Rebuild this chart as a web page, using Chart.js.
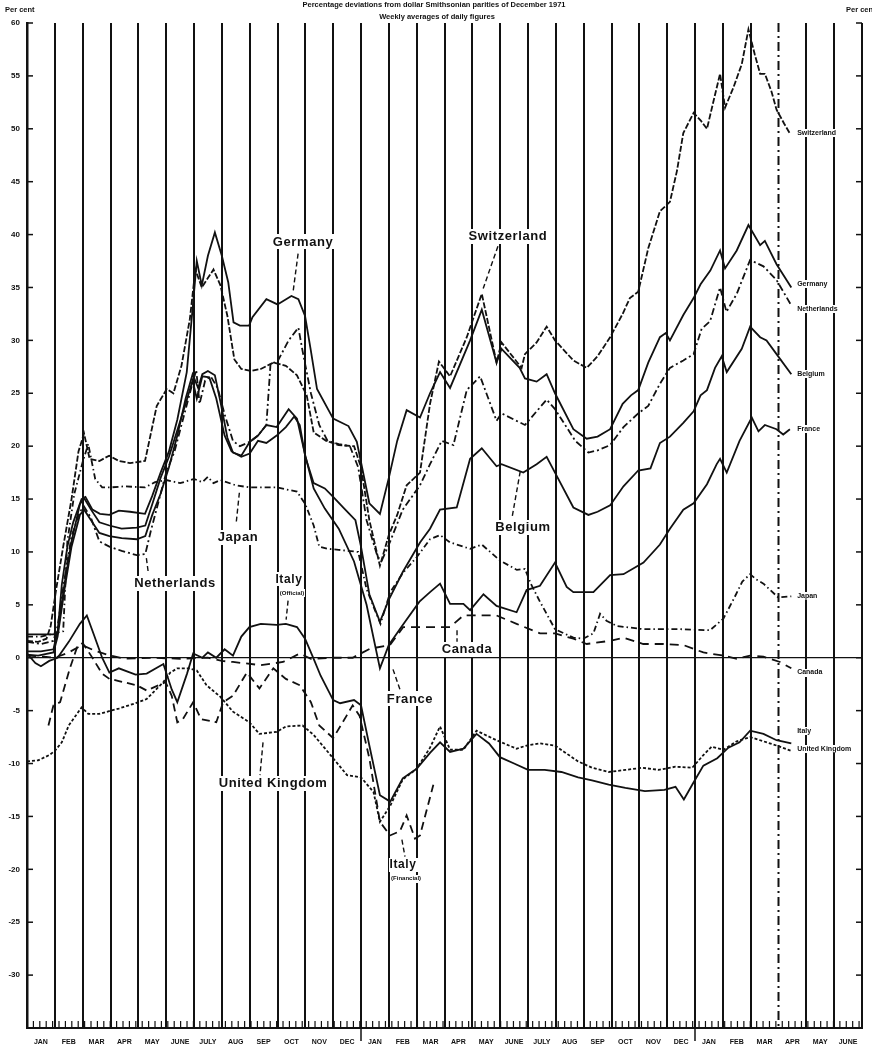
<!DOCTYPE html>
<html>
<head>
<meta charset="utf-8">
<script src="https://cdn.jsdelivr.net/npm/chart.js@4.4.1/dist/chart.umd.min.js"></script>
<style>
  html, body { margin: 0; padding: 0; background: #fff; }
  #wrap { width: 872px; height: 1053px; position: relative; }
</style>
</head>
<body>
<div id="wrap"><canvas id="c" width="872" height="1053"></canvas></div>
<script>
// Months from January 1973 to June 1975
const monthLabels = ['JAN','FEB','MAR','APR','MAY','JUNE','JULY','AUG','SEP','OCT','NOV','DEC',
                     'JAN','FEB','MAR','APR','MAY','JUNE','JULY','AUG','SEP','OCT','NOV','DEC',
                     'JAN','FEB','MAR','APR','MAY','JUNE'];

// Each series: [months since 1 Jan 1973, per cent deviation from Smithsonian parity]
const switzerland = [[0,1.6],[0.4,1.5],[0.7,1.8],[0.85,3],[1.05,6.5],[1.3,10.5],[1.6,15],[1.85,19.5],[2.05,21.2],[2.25,18.8],[2.6,18.6],[2.95,19.1],[3.3,18.6],[3.7,18.4],[4.24,18.6],[4.66,23.8],[5.02,25.4],[5.26,25],[5.55,27.6],[5.85,32],[6.05,36.7],[6.28,35],[6.7,36.7],[6.95,35.2],[7.2,32.3],[7.45,28.2],[7.7,27.3],[8.05,27.1],[8.4,27.3],[8.85,27.9],[9.3,27.6],[9.7,26.7],[10.05,24.8],[10.3,21.3],[10.75,20.5],[11.2,20.1],[11.75,20],[12.0,18],[12.3,13],[12.68,8.7],[13.0,11.6],[13.3,13.5],[13.64,16.3],[14.12,17.5],[14.48,24],[14.8,28],[15.2,26.6],[15.8,30.3],[16.34,34.4],[16.87,27.9],[17.05,29.8],[17.77,27.4],[17.89,28.7],[18.31,29.8],[18.67,31.3],[18.97,30],[19.63,28.1],[20.11,27.4],[20.5,28.5],[20.95,30.3],[21.4,32.5],[21.66,34],[21.96,34.6],[22.32,38.7],[22.74,42.2],[23.1,43.1],[23.35,46],[23.58,49.6],[23.95,51.5],[24.2,50.8],[24.43,50],[24.7,53],[24.9,55.2],[25.08,52],[25.38,53.9],[25.68,56.1],[25.92,59.4],[26.15,57],[26.34,55.2],[26.51,55.2],[26.75,53.5],[26.93,51.8],[27.2,50.5],[27.4,49.6]];

const germany = [[0,2.2],[0.5,2.2],[1.0,2.2],[1.1,2.3],[1.25,6.9],[1.45,10.5],[1.66,12.8],[1.96,15],[2.1,15.2],[2.35,14],[2.62,13.6],[2.96,13.5],[3.3,13.9],[3.7,13.8],[4.24,13.6],[4.5,15.3],[4.8,17.5],[5.1,19.5],[5.4,22.5],[5.74,27],[5.95,33],[6.1,37.5],[6.28,35.2],[6.5,38],[6.75,40.2],[7.0,38],[7.23,35.5],[7.42,31.7],[7.65,31.4],[7.98,31.4],[8.1,32.2],[8.6,33.9],[9.0,33.4],[9.5,34.2],[9.75,33.9],[9.99,32.3],[10.2,29],[10.42,25.4],[11.0,22.6],[11.55,21.9],[11.85,20.4],[12.1,17.2],[12.3,14.6],[12.68,13.6],[13.0,17],[13.3,20.5],[13.64,23.4],[14.12,22.7],[14.48,25],[14.84,27],[15.2,25.5],[15.92,30],[16.34,32.9],[16.87,27.9],[17.05,29.2],[17.7,27.4],[17.89,26.4],[18.31,26.1],[18.67,26.8],[18.97,25],[19.63,21.6],[20.11,20.7],[20.5,20.9],[20.95,21.6],[21.4,24],[21.7,24.8],[21.96,25.3],[22.32,27.9],[22.74,30.3],[22.95,30.7],[23.1,30],[23.58,32.4],[23.95,34],[24.2,35.3],[24.55,36.6],[24.9,38.5],[25.08,36.8],[25.5,38.5],[25.92,40.9],[26.34,39],[26.51,39.4],[26.93,37.2],[27.46,35]];

const netherlands = [[0,1.5],[0.5,1.3],[0.95,1.6],[1.1,3],[1.35,7.5],[1.6,11.5],[1.9,13.8],[2.05,14.3],[2.3,13.2],[2.6,11],[2.96,10.5],[3.4,10.1],[3.94,9.7],[4.25,9.8],[4.45,12],[4.75,15],[5.0,17.5],[5.3,19.5],[5.6,22.5],[5.9,25.5],[6.08,27.2],[6.2,24],[6.4,26.2],[6.6,26.6],[6.85,25.5],[7.1,23],[7.4,20.5],[7.65,20],[8.0,20.4],[8.3,21],[8.6,22],[8.75,27.8],[9.0,28],[9.4,30],[9.75,31.2],[9.9,29],[10.2,25],[10.5,22],[10.8,20.5],[11.2,20.2],[11.6,20],[11.9,18],[12.2,13],[12.6,9.5],[12.75,9.2],[13.05,11],[13.5,14],[14.12,16.3],[14.48,18.3],[14.9,20.5],[15.32,20.1],[15.8,25.3],[16.28,26.6],[16.87,22.4],[17.05,23.1],[17.89,22],[18.67,24.4],[18.97,23.5],[19.7,20.5],[20.17,19.4],[20.5,19.6],[20.95,20.1],[21.43,21.8],[21.96,23.1],[22.32,23.8],[22.74,25.9],[23.1,27.4],[23.58,28.1],[23.95,28.7],[24.24,31.1],[24.54,31.8],[24.9,35],[25.13,32.7],[25.5,34.4],[25.98,37.6],[26.46,37],[26.93,35.7],[27.46,33.3]];

const belgium = [[0,0.6],[0.5,0.6],[0.95,0.8],[1.1,2.5],[1.35,7],[1.6,11],[1.9,14.5],[2.05,15.1],[2.3,14],[2.6,12.8],[2.96,12.5],[3.4,12.2],[3.94,12.3],[4.25,12.5],[4.5,14.5],[4.8,17],[5.1,19],[5.4,21.5],[5.7,24],[5.95,26.2],[6.1,24.5],[6.3,26.6],[6.55,26.5],[6.8,24.5],[7.1,21],[7.35,19.5],[7.7,19],[8.0,19.3],[8.3,20.5],[8.6,20.3],[8.97,21],[9.3,21.8],[9.6,22.8],[9.8,22],[10.0,19],[10.3,16.5],[10.7,16],[11.0,15.2],[11.4,14.1],[11.8,13],[12.0,10.5],[12.3,6],[12.68,3.4],[13.0,5.5],[13.5,8.1],[14.12,10.9],[14.48,12.2],[14.84,14],[15.44,14.2],[15.92,18.8],[16.34,19.8],[16.87,18.1],[17.05,18.3],[17.83,17.5],[18.31,18.3],[18.67,19],[18.97,17.5],[19.63,14.2],[20.17,13.5],[20.5,13.8],[20.95,14.4],[21.43,16.2],[21.96,17.7],[22.4,17.9],[22.74,20.3],[23.1,20.9],[23.58,22.2],[23.95,23.3],[24.2,24.8],[24.43,25.3],[24.72,27.4],[24.96,28.5],[25.14,27],[25.68,29.2],[25.98,31.3],[26.34,30.3],[26.57,30],[26.93,28.7],[27.46,26.8]];

const france = [[0,0.3],[0.4,0.2],[0.95,0.5],[1.1,2],[1.35,6.5],[1.6,10.5],[1.9,13.5],[2.05,14],[2.3,13],[2.6,11.8],[2.96,11.5],[3.4,11.3],[3.94,11.2],[4.25,11.5],[4.5,13.5],[4.8,15.5],[5.1,18],[5.4,21],[5.7,24.5],[5.95,26.8],[6.15,25.5],[6.3,26.8],[6.5,27.1],[6.75,26.7],[6.95,24.2],[7.2,20.8],[7.4,19.4],[7.7,19.1],[8.0,20.4],[8.3,21],[8.6,22],[8.97,21.8],[9.4,23.5],[9.7,22.6],[10.0,19.1],[10.3,16],[10.7,14.1],[11.2,12.2],[11.75,9.1],[12.2,5],[12.68,-1],[13.0,1.2],[13.5,3.1],[14.1,5.3],[14.48,6.2],[14.84,7],[15.2,5.1],[15.68,5.1],[15.92,4.5],[16.4,6],[16.87,4.9],[17.59,4.3],[17.95,6.4],[18.43,6.8],[18.97,9],[19.39,6.7],[19.63,6.2],[20.35,6.2],[20.95,7.8],[21.43,7.9],[22.15,9],[22.74,10.7],[23.1,12.2],[23.58,14],[23.95,14.6],[24.43,16.4],[24.78,18.3],[24.9,18.8],[25.14,17.5],[25.6,20.5],[26.04,22.7],[26.28,21.4],[26.51,22],[26.93,21.6],[27.17,21.1],[27.41,21.6]];

const japan = [[0,2.0],[0.5,2.0],[1.0,2.3],[1.3,2.5],[1.45,11],[1.7,15.5],[2.0,18.5],[2.2,20.2],[2.45,16.9],[2.7,16.1],[3.0,16.1],[3.5,16.2],[4.24,16.1],[4.6,16.6],[5.0,16.8],[5.5,16.5],[6.0,16.9],[6.3,16.6],[6.5,17.1],[6.7,16.5],[6.95,16.8],[7.5,16.3],[8.0,16.1],[8.97,16.1],[9.7,15.7],[10.0,14.5],[10.3,12.5],[10.5,10.5],[10.8,10.3],[11.2,10.2],[11.9,10],[12.2,6.5],[12.5,4.5],[12.7,3.2],[13.05,6.2],[13.5,8],[14.0,9.5],[14.48,11.2],[14.84,11.6],[15.2,10.9],[15.92,10.3],[16.34,10.7],[16.99,9.2],[17.6,8.3],[17.89,8.4],[18.1,7],[18.43,5.3],[18.97,2.7],[19.63,1.9],[19.98,1.8],[20.35,2.3],[20.59,4.15],[20.82,3.5],[21.19,3],[22.14,2.7],[23.46,2.7],[24.54,2.6],[25.02,3.7],[25.4,5.6],[25.7,7.2],[25.98,7.9],[26.2,7.4],[26.46,7],[26.99,5.7],[27.46,5.8]];

const canada = [[0,0.2],[0.6,0.1],[1.0,0],[1.5,0.5],[1.97,1.2],[2.5,0.6],[3.0,0.2],[3.5,-0.1],[4.5,0],[5.5,-0.1],[6.5,0],[7.0,-0.3],[7.4,-0.4],[8.4,-0.7],[9.2,-0.4],[9.8,0.4],[10.2,-0.1],[11.0,0],[11.7,0],[12.32,0.85],[13.04,1.2],[13.52,2.9],[14.48,2.9],[15.2,2.9],[15.68,4],[16.87,4],[17.59,3.2],[18.43,2.3],[18.97,2.3],[19.63,1.8],[20.11,1.3],[20.95,1.6],[21.43,1.9],[22.14,1.3],[22.86,1.3],[23.58,1.2],[24.3,0.5],[25.02,0.2],[25.5,-0.1],[25.98,0.2],[26.46,0.1],[27.05,-0.4],[27.46,-1]];

const italyOfficial = [[0,0.4],[0.3,-0.5],[0.5,-0.8],[0.8,-0.3],[1.1,0],[1.5,1.5],[1.9,3.2],[2.15,4],[2.4,2.2],[2.7,0],[2.96,-1.4],[3.3,-1],[3.9,-1.6],[4.3,-1.5],[4.9,-0.6],[5.2,-3],[5.4,-4.2],[5.75,-1.5],[5.97,0.4],[6.3,0],[6.5,0.5],[6.8,0],[7.1,0.8],[7.4,0.2],[7.7,2],[7.99,2.9],[8.4,3.2],[8.97,3.1],[9.3,3.2],[9.7,2.9],[9.99,1.8],[10.3,-0.1],[10.55,-1.7],[11.0,-4],[11.25,-4.3],[11.75,-4],[12.0,-4.5],[12.3,-8.3],[12.68,-13],[13.05,-13.6],[13.5,-11.4],[14.0,-10.5],[14.48,-9],[14.84,-8],[15.2,-8.9],[15.68,-8.6],[16.15,-7.2],[16.6,-8.1],[16.99,-9.4],[17.5,-10],[18.0,-10.6],[18.6,-10.6],[19.2,-10.8],[19.8,-11.3],[20.3,-11.6],[20.9,-12],[21.5,-12.3],[22.2,-12.6],[22.9,-12.5],[23.3,-12.2],[23.6,-13.4],[23.9,-12],[24.3,-10.2],[24.8,-9.5],[25.2,-8.5],[25.6,-8],[25.98,-6.9],[26.46,-7.2],[26.93,-7.8],[27.46,-8.1]];

const italyFinancial = [[0.77,-6.4],[0.95,-4.5],[1.19,-4.2],[1.54,-1],[1.8,1.0],[2.0,1.4],[2.3,0.2],[2.7,-1.5],[2.96,-2],[3.3,-2.2],[3.94,-2.6],[4.3,-3.1],[4.98,-2.3],[5.2,-3.6],[5.4,-6.1],[5.6,-5.8],[5.97,-4.2],[6.25,-5.8],[6.8,-6.1],[7.05,-4.2],[7.4,-3.6],[7.9,-1.4],[8.35,-2.9],[8.85,-1],[9.3,-2],[9.8,-2.6],[10.2,-4.2],[10.5,-6.4],[11.0,-7.6],[11.5,-5.4],[11.7,-4.5],[11.95,-5.5],[12.3,-9.5],[12.68,-15.5],[13.04,-16.8],[13.4,-16.4],[13.64,-14.9],[13.94,-17.1],[14.12,-16.8],[14.4,-14],[14.6,-12]];

const unitedKingdom = [[0,-9.8],[0.4,-9.7],[0.8,-9.2],[1.0,-8.8],[1.25,-8],[1.5,-6.4],[1.96,-4.7],[2.2,-5.3],[2.6,-5.3],[3.3,-4.8],[3.9,-4.3],[4.3,-3.9],[4.9,-2.3],[5.15,-1.4],[5.4,-1],[5.8,-1],[6.1,-1.2],[6.45,-2.6],[6.95,-3.7],[7.4,-5.1],[7.99,-6.1],[8.35,-7.2],[8.97,-7],[9.3,-6.5],[9.9,-6.4],[10.3,-7.3],[11.0,-9.5],[11.5,-11.1],[12.0,-11.3],[12.45,-12.7],[12.68,-15.5],[13.05,-14],[13.5,-11.5],[14.0,-10.5],[14.48,-8.5],[14.84,-6.5],[15.2,-8.7],[15.68,-8.7],[16.15,-6.9],[16.87,-7.8],[17.59,-8.6],[17.95,-8.3],[18.43,-8.1],[18.97,-8.3],[19.3,-8.9],[19.8,-9.8],[20.3,-10.4],[20.9,-10.8],[21.5,-10.6],[22.1,-10.4],[22.7,-10.6],[23.3,-10.3],[23.9,-10.4],[24.3,-9.2],[24.6,-8.4],[25.02,-8.7],[25.5,-7.9],[25.98,-7.5],[26.46,-7.9],[26.93,-8.3],[27.46,-8.8]];

const INK = '#111';
const FONT = '"Liberation Sans", Arial, Helvetica, sans-serif';
const BROKEN_MONTH_LINE = 27;   // this month rule is printed broken

function series(label, pts, dash) {
  return {
    label,
    data: pts.map(([x, y]) => ({ x, y })),
    borderColor: INK,
    borderWidth: 1.8,
    borderDash: dash,
    pointRadius: 0,
    tension: 0,
    fill: false
  };
}

// Names printed inside the plot: [text, month, value, size]
const insideLabels = [
  ['Germany', 9.92, 39.3, 13],
  ['Switzerland', 17.28, 39.8, 13],
  ['Japan', 7.58, 11.4, 13],
  ['Netherlands', 5.32, 7.0, 13],
  ['Italy', 9.41, 7.4, 12],
  ['(Official)', 9.52, 6.1, 6],
  ['Belgium', 17.82, 12.3, 13],
  ['Canada', 15.81, 0.75, 13],
  ['France', 13.76, -3.9, 13],
  ['United Kingdom', 8.84, -11.9, 13],
  ['Italy', 13.51, -19.6, 12],
  ['(Financial)', 13.62, -20.9, 6]
];
// Pointer strokes from a name to its curve: [month1, value1, month2, value2]
const leaders = [
  [9.74, 38.2, 9.56, 34.6],
  [16.92, 38.9, 16.39, 34.9],
  [7.63, 15.6, 7.51, 12.6],
  [4.35, 8.2, 4.28, 9.6],
  [9.38, 5.4, 9.31, 3.6],
  [17.72, 17.6, 17.43, 13.3],
  [15.45, 2.6, 15.45, 1.5],
  [13.15, -1.1, 13.4, -3.0],
  [8.48, -8.0, 8.37, -11.1],
  [13.47, -17.2, 13.58, -18.8]
];
// Names at the right-hand ends: [text, value]
const endLabels = [
  ['Switzerland', 49.6], ['Germany', 35.3], ['Netherlands', 33.0], ['Belgium', 26.8],
  ['France', 21.6], ['Japan', 5.8], ['Canada', -1.4], ['Italy', -6.9], ['United Kingdom', -8.6]
];

const decorations = {
  id: 'decorations',
  beforeDatasetsDraw(chart) {
    const { ctx, chartArea: a, scales: { x } } = chart;
    const px = x.getPixelForValue(BROKEN_MONTH_LINE);
    ctx.save();
    ctx.strokeStyle = INK;
    ctx.lineWidth = 2;
    ctx.setLineDash([9, 4, 2, 4]);
    ctx.beginPath(); ctx.moveTo(px, a.top); ctx.lineTo(px, a.bottom); ctx.stroke();
    ctx.restore();
  },
  afterDraw(chart) {
    const { ctx, chartArea: a, scales: { x, y } } = chart;
    ctx.save();
    ctx.strokeStyle = INK;
    ctx.fillStyle = INK;

    // inward ticks on both vertical axes
    ctx.lineWidth = 1.5;
    for (let v = -35; v <= 60; v += 5) {
      const py = y.getPixelForValue(v);
      ctx.beginPath(); ctx.moveTo(a.left, py); ctx.lineTo(a.left + 6, py); ctx.stroke();
      ctx.beginPath(); ctx.moveTo(a.right - 6, py); ctx.lineTo(a.right, py); ctx.stroke();
    }
    // weekly ticks along the base
    ctx.lineWidth = 1.2;
    for (let w = 0; ; w++) {
      const m = w * 7 / 30.44;
      if (m > 30) break;
      const px = x.getPixelForValue(m);
      ctx.beginPath(); ctx.moveTo(px, a.bottom); ctx.lineTo(px, a.bottom - 7); ctx.stroke();
    }
    // year boundaries
    ctx.lineWidth = 1.5;
    [12, 24].forEach(m => {
      const px = x.getPixelForValue(m);
      ctx.beginPath(); ctx.moveTo(px, a.bottom); ctx.lineTo(px, a.bottom + 13); ctx.stroke();
    });

    // headings
    ctx.font = 'bold 7.5px ' + FONT;
    ctx.textBaseline = 'middle';
    ctx.textAlign = 'center';
    ctx.fillText('Percentage deviations from dollar Smithsonian parities of December 1971', 434, 5);
    ctx.fillText('Weekly averages of daily figures', 437, 17);
    ctx.textAlign = 'left';
    ctx.fillText('Per cent', 5, 10);
    ctx.fillText('Per cent', 846, 10);

    // names inside the plot
    ctx.textAlign = 'center';
    insideLabels.forEach(([t, m, v, s]) => {
      ctx.font = 'bold ' + s + 'px ' + FONT;
      ctx.letterSpacing = s > 10 ? '0.6px' : '0px';
      const px = x.getPixelForValue(m), py = y.getPixelForValue(v);
      const w = ctx.measureText(t).width;
      ctx.clearRect(px - w / 2 - 1, py - s / 2 - 1, w + 2, s + 2);
      ctx.fillText(t, px, py);
    });
    ctx.letterSpacing = '0px';

    // pointer strokes
    ctx.lineWidth = 1.4;
    ctx.setLineDash([5, 3]);
    leaders.forEach(([m1, v1, m2, v2]) => {
      ctx.beginPath();
      ctx.moveTo(x.getPixelForValue(m1), y.getPixelForValue(v1));
      ctx.lineTo(x.getPixelForValue(m2), y.getPixelForValue(v2));
      ctx.stroke();
    });
    ctx.setLineDash([]);

    // names at the right-hand ends
    ctx.font = 'bold 7px ' + FONT;
    ctx.textAlign = 'left';
    endLabels.forEach(([t, v]) => {
      const px = x.getPixelForValue(27.67), py = y.getPixelForValue(v);
      const w = ctx.measureText(t).width;
      ctx.clearRect(px - 1, py - 4, w + 2, 8);
      ctx.fillText(t, px, py);
    });
    ctx.restore();
  }
};

new Chart(document.getElementById('c'), {
  type: 'line',
  data: {
    datasets: [
      series('Switzerland', switzerland, [6, 2]),
      series('Germany', germany, []),
      series('Netherlands', netherlands, [7, 3, 2, 3]),
      series('Belgium', belgium, []),
      series('France', france, []),
      series('Japan', japan, [6, 3, 1.5, 3]),
      series('Canada', canada, [9, 6]),
      series('Italy (Official)', italyOfficial, []),
      series('Italy (Financial)', italyFinancial, [8, 5]),
      series('United Kingdom', unitedKingdom, [3, 2])
    ]
  },
  options: {
    responsive: false,
    animation: false,
    devicePixelRatio: 1,
    layout: { padding: { top: 23, right: 10, bottom: 0, left: 0 } },
    plugins: { legend: { display: false }, tooltip: { enabled: false }, title: { display: false } },
    scales: {
      x: {
        type: 'linear',
        min: 0, max: 30,
        afterBuildTicks(s) { s.ticks = monthLabels.concat(['']).map((_, i) => ({ value: i })); },
        afterFit(s) { s.height = 25; },
        grid: {
          color: c => (c.tick && c.tick.value === BROKEN_MONTH_LINE ? 'rgba(0,0,0,0)' : INK),
          lineWidth: 2, drawTicks: false
        },
        border: { display: true, color: INK, width: 2 },
        ticks: {
          autoSkip: false, maxRotation: 0, labelOffset: 13.9, padding: 10,
          color: INK, font: { family: FONT, size: 7, weight: 'bold' },
          callback: v => monthLabels[v] || ''
        }
      },
      y: {
        min: -35, max: 60,
        afterFit(s) { s.width = 27; },
        grid: { color: c => (c.tick && c.tick.value === 0 ? INK : 'rgba(0,0,0,0)'), lineWidth: 1.2, drawTicks: false },
        border: { display: true, color: INK, width: 2.5 },
        ticks: {
          stepSize: 5, padding: 7, color: INK,
          font: { family: FONT, size: 8, weight: 'bold' },
          callback: v => (v > -35 ? String(v) : '')
        }
      }
    }
  },
  plugins: [decorations]
});
</script>
</body>
</html>
